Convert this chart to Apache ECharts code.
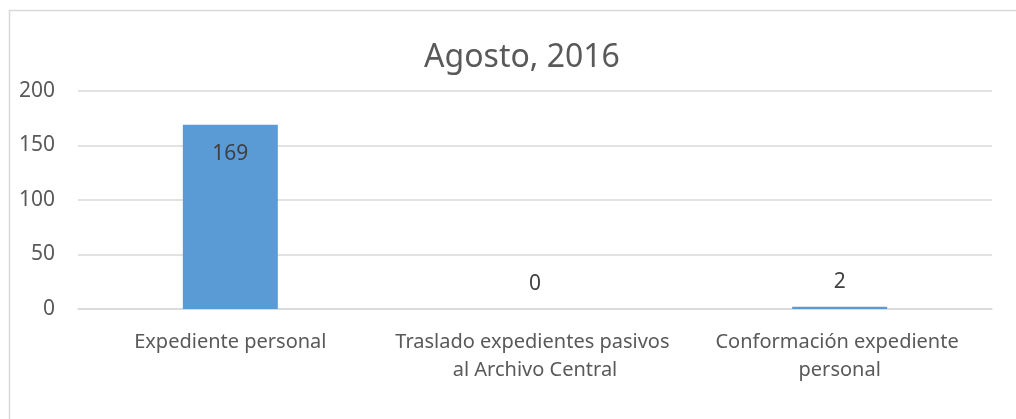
<!DOCTYPE html>
<html lang="es">
<head>
    <meta charset="UTF-8">
    <title>Agosto, 2016</title>
    <script src="https://cdn.jsdelivr.net/npm/echarts@6/dist/echarts.min.js"></script>
    <style>
        html, body {
            margin: 0;
            padding: 0;
            background: #ffffff;
        }
        #chart {
            width: 1016px;
            height: 419px;
        }
    </style>
</head>
<body>
    <div id="chart"></div>
    <script>
        const titleText = 'Agosto, 2016';
        const categories = [
            'Expediente personal',
            'Traslado expedientes pasivos al Archivo Central',
            'Conformación expediente personal'
        ];
        const values = [169, 0, 2];
        const yTicks = [0, 50, 100, 150, 200];

        const textColor = '#595959';
        const gridColor = '#d9d9d9';
        const font = 'Noto Sans';

        const chart = echarts.init(document.getElementById('chart'));

        const option = {
            animation: false,
            backgroundColor: '#ffffff',
            title: {
                text: titleText,
                left: 517,
                top: 35,
                textAlign: 'center',
                textStyle: {
                    color: textColor,
                    fontFamily: font,
                    fontSize: 32,
                    fontWeight: 'normal',
                    lineHeight: 36
                }
            },
            graphic: [{
                type: 'rect',
                shape: { x: 9.5, y: 10.5, width: 1200, height: 600 },
                style: { fill: 'none', stroke: gridColor, lineWidth: 1.5 },
                silent: true
            }],
            grid: {
                left: 78,
                right: 24,
                top: 91,
                bottom: 110
            },
            xAxis: {
                type: 'category',
                data: categories,
                axisLine: { show: true, lineStyle: { color: gridColor, width: 1.5 } },
                axisTick: { show: false },
                axisLabel: {
                    interval: 0,
                    color: textColor,
                    fontFamily: font,
                    fontSize: 20,
                    lineHeight: 28,
                    margin: 19,
                    width: 290,
                    overflow: 'break'
                }
            },
            yAxis: {
                type: 'value',
                min: yTicks[0],
                max: yTicks[yTicks.length - 1],
                interval: yTicks[1] - yTicks[0],
                axisLine: { show: false },
                axisTick: { show: false },
                splitLine: { lineStyle: { color: gridColor, width: 1.5 } },
                axisLabel: {
                    color: textColor,
                    fontFamily: font,
                    fontSize: 21,
                    margin: 23
                }
            },
            series: [{
                type: 'bar',
                data: values.map(v => ({
                    value: v,
                    label: { position: v > 20 ? 'insideTop' : 'top', distance: v > 20 ? 19 : 14 }
                })),
                barWidth: 95,
                itemStyle: { color: '#5b9bd5' },
                label: {
                    show: true,
                    color: '#404040',
                    fontFamily: font,
                    fontSize: 21
                }
            }]
        };

        chart.setOption(option);
    </script>
</body>
</html>
